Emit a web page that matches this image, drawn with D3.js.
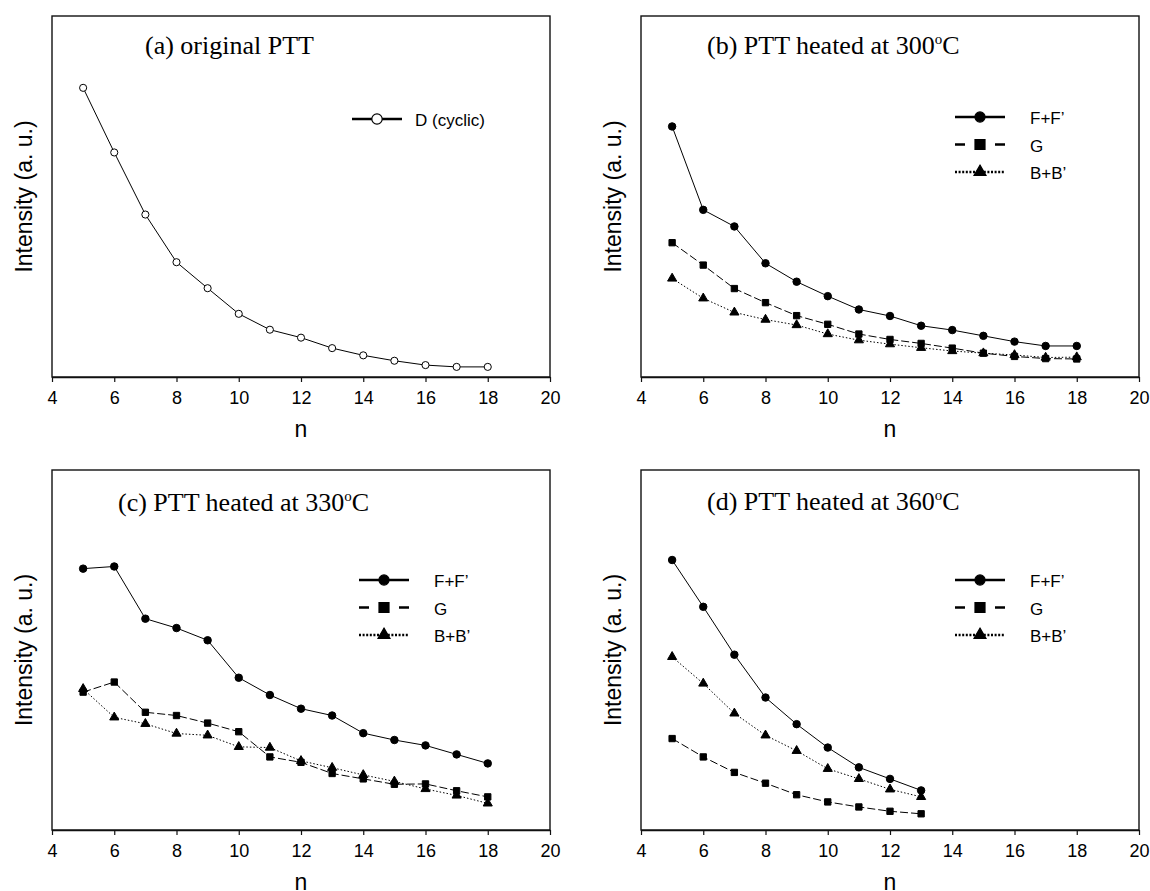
<!DOCTYPE html>
<html>
<head>
<meta charset="utf-8">
<script src="https://cdn.jsdelivr.net/npm/d3@7"></script>
<style>
  body { margin: 0; background: #fff; }
  svg { display: block; }
  .tick text { font-family: "Liberation Sans", Arial, sans-serif; font-size: 18px; fill: #000; }
  .title { font-family: "Liberation Serif", "Times New Roman", serif; font-size: 26px; fill: #000; }
  .axlabel { font-family: "Liberation Sans", Arial, sans-serif; font-size: 23px; fill: #000; }
  .legtext { font-family: "Liberation Sans", Arial, sans-serif; font-size: 17px; fill: #000; }
</style>
</head>
<body>
<svg width="1150" height="891"></svg>
<script>
// chain length n on the x axis
var nLong = [5, 6, 7, 8, 9, 10, 11, 12, 13, 14, 15, 16, 17, 18];
var nShort = [5, 6, 7, 8, 9, 10, 11, 12, 13];
var xTicks = [4, 6, 8, 10, 12, 14, 16, 18, 20];

// intensities in a.u. (fraction of the plot height)
var aCyclic = [0.801, 0.622, 0.450, 0.318, 0.246, 0.175, 0.131, 0.109, 0.080, 0.060, 0.045, 0.033, 0.028, 0.028];

var bFF = [0.694, 0.463, 0.417, 0.315, 0.264, 0.224, 0.187, 0.169, 0.142, 0.130, 0.114, 0.098, 0.086, 0.086];
var bG  = [0.372, 0.310, 0.245, 0.206, 0.170, 0.146, 0.119, 0.104, 0.093, 0.080, 0.066, 0.057, 0.051, 0.050];
var bBB = [0.273, 0.218, 0.179, 0.159, 0.144, 0.119, 0.102, 0.091, 0.081, 0.072, 0.066, 0.061, 0.054, 0.055];

var cFF = [0.726, 0.732, 0.587, 0.561, 0.527, 0.423, 0.375, 0.337, 0.318, 0.269, 0.250, 0.235, 0.210, 0.185];
var cG  = [0.383, 0.411, 0.327, 0.318, 0.297, 0.273, 0.203, 0.188, 0.157, 0.142, 0.127, 0.128, 0.109, 0.092];
var cBB = [0.392, 0.313, 0.295, 0.268, 0.263, 0.231, 0.229, 0.192, 0.173, 0.153, 0.135, 0.114, 0.096, 0.074];

var dFF = [0.750, 0.620, 0.487, 0.368, 0.294, 0.229, 0.174, 0.142, 0.110];
var dG  = [0.254, 0.203, 0.160, 0.130, 0.098, 0.078, 0.064, 0.052, 0.045];
var dBB = [0.481, 0.407, 0.324, 0.263, 0.220, 0.170, 0.142, 0.113, 0.092];

// line / marker styles per series kind
var styles = {
    cyclic: { dash: null, symbol: d3.symbolCircle, size: 40, legSize: 85, fill: "#fff" },
    FF: { dash: null, symbol: d3.symbolCircle, size: 44, legSize: 80, fill: "#000" },
    G: { dash: "8,3", legDash: "10,30", symbol: d3.symbolSquare, size: 40, legSize: 100, fill: "#000" },
    BB: { dash: "1.5,2", legDash: "2,1.6", symbol: d3.symbolTriangle, size: 36, legSize: 62, fill: "#000" }
};

function series(label, kind, xs, ys) {
    return { label: label, kind: kind, points: xs.map(function (x, i) { return [x, ys[i]]; }) };
}

var panels = [
    { box: [52, 16, 550, 377], title: ["(a) original PTT"], titleX: 145, titleY: 54,
      leg: [352, 119], series: [series("D (cyclic)", "cyclic", nLong, aCyclic)] },
    { box: [641, 16, 1139, 377], title: ["(b) PTT heated at 300", "C"], titleX: 707, titleY: 54,
      leg: [955, 117], series: [series("F+F\u2019", "FF", nLong, bFF), series("G", "G", nLong, bG), series("B+B\u2019", "BB", nLong, bBB)] },
    { box: [52, 470, 550, 830], title: ["(c) PTT heated at 330", "C"], titleX: 118, titleY: 511,
      leg: [359, 580], series: [series("F+F\u2019", "FF", nLong, cFF), series("G", "G", nLong, cG), series("B+B\u2019", "BB", nLong, cBB)] },
    { box: [641, 470, 1139, 830], title: ["(d) PTT heated at 360", "C"], titleX: 707, titleY: 510,
      leg: [955, 580], series: [series("F+F\u2019", "FF", nShort, dFF), series("G", "G", nShort, dG), series("B+B\u2019", "BB", nShort, dBB)] }
];

var svg = d3.select("svg");

panels.forEach(function (p) {
    var left = p.box[0], top = p.box[1], right = p.box[2], bottom = p.box[3];
    var x = d3.scaleLinear().domain([4, 20]).range([left, right]);
    var y = d3.scaleLinear().domain([0, 1]).range([bottom, top]);
    var g = svg.append("g");

    // frame
    g.append("rect")
        .attr("x", left).attr("y", top)
        .attr("width", right - left).attr("height", bottom - top)
        .attr("fill", "none").attr("stroke", "#111").attr("stroke-width", 1.4);

    // x axis, ticks outward
    var ax = g.append("g")
        .attr("transform", "translate(0," + bottom + ")")
        .call(d3.axisBottom(x).tickValues(xTicks).tickSize(5).tickPadding(9).tickSizeOuter(0));
    ax.select(".domain").attr("stroke", "#111").attr("stroke-width", 1.4);
    ax.selectAll(".tick line").attr("stroke", "#111").attr("stroke-width", 1.2);

    // axis titles
    g.append("text").attr("class", "axlabel")
        .attr("x", (left + right) / 2).attr("y", bottom + 60)
        .attr("text-anchor", "middle").text("n");
    g.append("text").attr("class", "axlabel")
        .attr("transform", "translate(" + (left - 20) + "," + ((top + bottom) / 2) + ") rotate(-90)")
        .attr("text-anchor", "middle").text("Intensity (a. u.)");

    // panel title with superscript degree
    var t = g.append("text").attr("class", "title").attr("x", p.titleX).attr("y", p.titleY);
    t.append("tspan").text(p.title[0]);
    if (p.title.length > 1) {
        t.append("tspan").attr("dy", -10).attr("font-size", "15px").text("o");
        t.append("tspan").attr("dy", 10).text(p.title[1]);
    }

    var line = d3.line().x(function (d) { return x(d[0]); }).y(function (d) { return y(d[1]); });

    p.series.forEach(function (s, i) {
        var st = styles[s.kind];
        g.append("path")
            .attr("d", line(s.points))
            .attr("fill", "none").attr("stroke", "#000").attr("stroke-width", 1)
            .attr("stroke-dasharray", st.dash);
        g.selectAll(null).data(s.points).enter().append("path")
            .attr("transform", function (d) { return "translate(" + x(d[0]) + "," + y(d[1]) + ")"; })
            .attr("d", d3.symbol().type(st.symbol).size(st.size))
            .attr("fill", st.fill).attr("stroke", "#000").attr("stroke-width", 1);

        // legend row
        var ly = p.leg[1] + i * 27.5;
        g.append("line")
            .attr("x1", p.leg[0]).attr("x2", p.leg[0] + 50)
            .attr("y1", ly).attr("y2", ly)
            .attr("stroke", "#000").attr("stroke-width", 2.4)
            .attr("stroke-dasharray", st.legDash || st.dash);
        g.append("path")
            .attr("transform", "translate(" + (p.leg[0] + 25) + "," + ly + ")")
            .attr("d", d3.symbol().type(st.symbol).size(st.legSize))
            .attr("fill", st.fill).attr("stroke", "#000").attr("stroke-width", 1.2);
        g.append("text").attr("class", "legtext")
            .attr("x", p.leg[0] + (s.kind === "cyclic" ? 63 : 75)).attr("y", ly + 7)
            .text(s.label);
    });
});
</script>
</body>
</html>
